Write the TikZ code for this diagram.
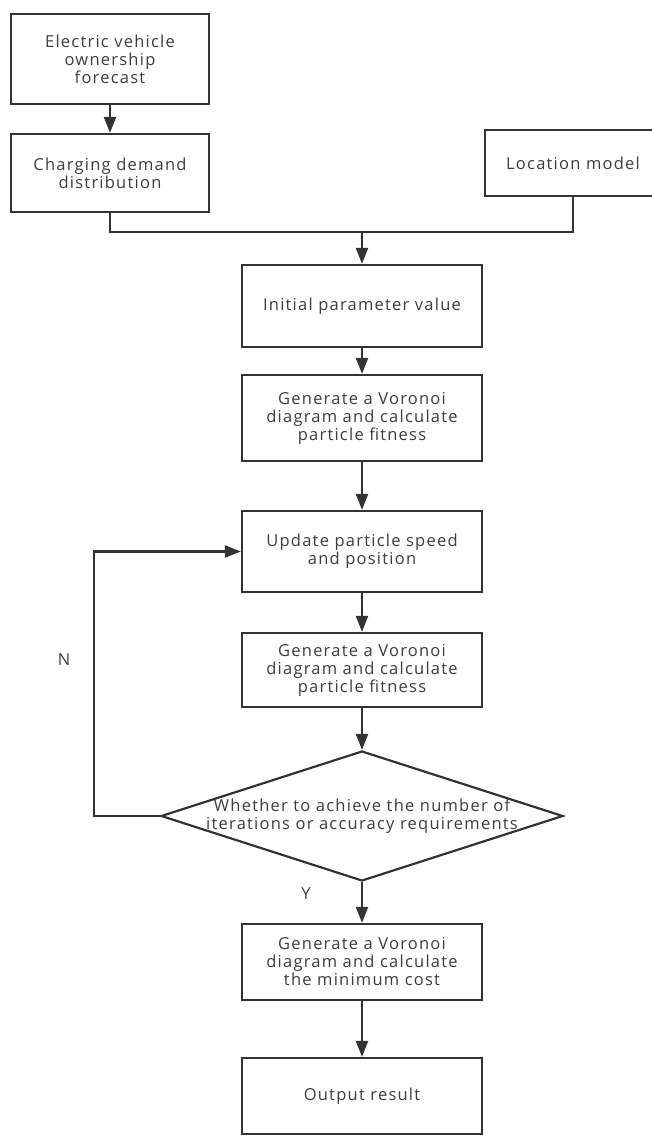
\documentclass[tikz,border=0pt]{standalone}
\usepackage{fontspec}
\setmainfont{Open Sans}[LetterSpace=7.5]
\usepackage{tikz}
\usetikzlibrary{arrows.meta}
\usetikzlibrary{shapes.geometric}
\usetikzlibrary{positioning}

\definecolor{linegray}{HTML}{333333}
\definecolor{textgray}{HTML}{3C3C3C}

\tikzset{
  box/.style={draw=linegray, line width=2.2pt, rectangle, align=center,
    inner sep=0pt, text=textgray, font=\fontsize{16.5}{18}\selectfont},
  decision/.style={draw=linegray, line width=2.2pt, diamond, inner sep=0pt,
    minimum width=402pt, minimum height=130pt},
  flow/.style={draw=linegray, line width=2.2pt,
    -{Triangle[width=12pt,length=16pt]}},
  link/.style={draw=linegray, line width=2.2pt},
  tag/.style={text=textgray, font=\fontsize{16.5}{18}\selectfont}
}

\begin{document}
\begin{tikzpicture}[x=1pt, y=-1pt]
  \useasboundingbox (0,0) rectangle (651,1142);

  % Inputs
  \node[box, minimum width=198pt, minimum height=90pt] (forecast) at (110,59)
    {Electric vehicle\\ownership\\forecast};
  \node[box, minimum width=198pt, minimum height=78pt] (demand) at (110,173)
    {Charging demand\\distribution};
  \node[box, minimum width=176pt, minimum height=66pt] (model) at (573,163)
    {Location model};

  % Main chain
  \node[box, minimum width=240pt, minimum height=82pt] (init) at (362,306)
    {Initial parameter value};
  \node[box, minimum width=240pt, minimum height=86pt] (voronoi1) at (362,418)
    {Generate a Voronoi\\diagram and calculate\\particle fitness};
  \node[box, minimum width=240pt, minimum height=81pt] (update) at (362,551.5)
    {Update particle speed\\and position};
  \node[box, minimum width=240pt, minimum height=74pt] (voronoi2) at (362,670)
    {Generate a Voronoi\\diagram and calculate\\particle fitness};
  \node[decision] (check) at (362,816) {};
  \node[tag, align=center] (checktext) at (check.center)
    {Whether to achieve the number of\\iterations or accuracy requirements};
  \node[box, minimum width=240pt, minimum height=76pt] (voronoi3) at (362,962)
    {Generate a Voronoi\\diagram and calculate\\the minimum cost};
  \node[box, minimum width=240pt, minimum height=76pt] (output) at (362,1096)
    {Output result};

  % Labels
  \node[tag] (yes) at (306,894) {Y};
  \node[tag] (no) at (64,660) {N};

  % Connectors
  \coordinate (merge) at (362,232);
  \coordinate (loopcorner) at (94,816);
  \draw[flow] (forecast) -- (demand);
  \draw[link] (demand.south) |- (merge);
  \draw[link] (model.south) |- (merge);
  \draw[flow] (merge) -- (init.north);
  \draw[flow] (init) -- (voronoi1);
  \draw[flow] (voronoi1) -- (update);
  \draw[flow] (update) -- (voronoi2);
  \draw[flow] (voronoi2) -- (check.north);
  \draw[flow] (check.south) -- (voronoi3);
  \draw[flow] (voronoi3) -- (output);
  \draw[flow] (check.west) -- (loopcorner) |- (update.west);
\end{tikzpicture}
\end{document}
